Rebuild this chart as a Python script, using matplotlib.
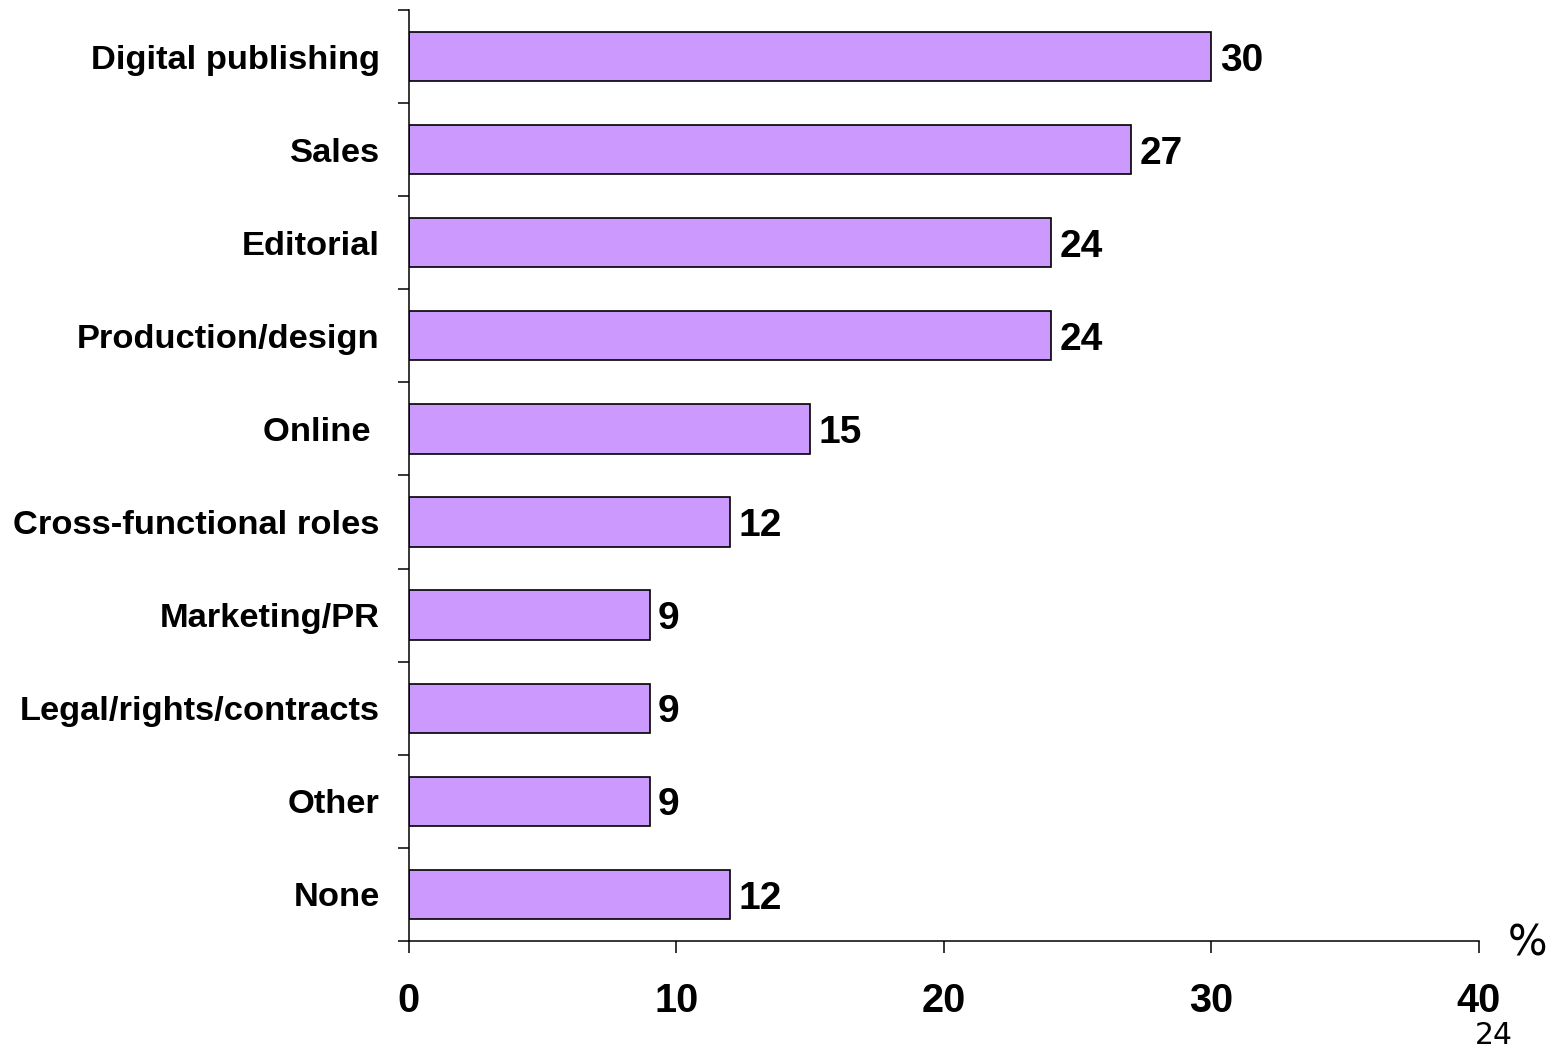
import matplotlib
matplotlib.use("Agg")
import matplotlib.pyplot as plt
import numpy as np

# ─── Data ────────────────────────────────────────────────────────────────────

categories = [
    "Digital publishing",
    "Sales",
    "Editorial",
    "Production/design",
    "Online ",
    "Cross-functional roles",
    "Marketing/PR",
    "Legal/rights/contracts",
    "Other",
    "None",
]
values = [30, 27, 24, 24, 15, 12, 9, 9, 9, 12]
x_ticks = [0, 10, 20, 30, 40]

BAR_COLOR = "#CC99FF"
BOLD = {"family": "Liberation Sans", "weight": "bold"}

# ─── Chart ───────────────────────────────────────────────────────────────────

fig = plt.figure(figsize=(15.68, 10.51), dpi=100)
ax = fig.add_axes([0.2608, 0.1047, 0.9432 - 0.2608, 0.9905 - 0.1047])

y = np.arange(len(categories))
bars = ax.barh(y, values, height=0.53, color=BAR_COLOR,
               edgecolor="black", linewidth=1.2)

for rect, v in zip(bars, values):
    ax.annotate(f"{v}", (rect.get_width(), rect.get_y() + rect.get_height() / 2),
                xytext=(6, -3), textcoords="offset points",
                ha="left", va="center", fontsize=28, **BOLD)

ax.set_xlim(0, 40)
ax.set_ylim(len(categories) - 0.5, -0.5)

# category names sit on the centres, tick marks on the boundaries
ax.set_yticks(y)
ax.set_yticklabels(categories, fontsize=24.8, **BOLD)
ax.tick_params(axis="y", which="major", length=0, pad=21)
ax.set_yticks(np.arange(len(categories) + 1) - 0.5, minor=True)
ax.tick_params(axis="y", which="minor", length=8, width=1.1, direction="out")

ax.set_xticks(x_ticks)
ax.set_xticklabels([str(t) for t in x_ticks], fontsize=28.5, **BOLD)
ax.tick_params(axis="x", length=8.6, width=1.1, direction="out", pad=21)

for side in ("top", "right"):
    ax.spines[side].set_visible(False)
for side in ("left", "bottom"):
    ax.spines[side].set_linewidth(1.1)

fig.text(1528 / 1568, 1 - 944 / 1051, "%", fontsize=30,
         family="DejaVu Sans", ha="center", va="center")
fig.text(1494 / 1568, 1 - 1036 / 1051, "24", fontsize=21.5,
         family="DejaVu Sans", ha="center", va="center")

fig.savefig("out.png", dpi=100)
